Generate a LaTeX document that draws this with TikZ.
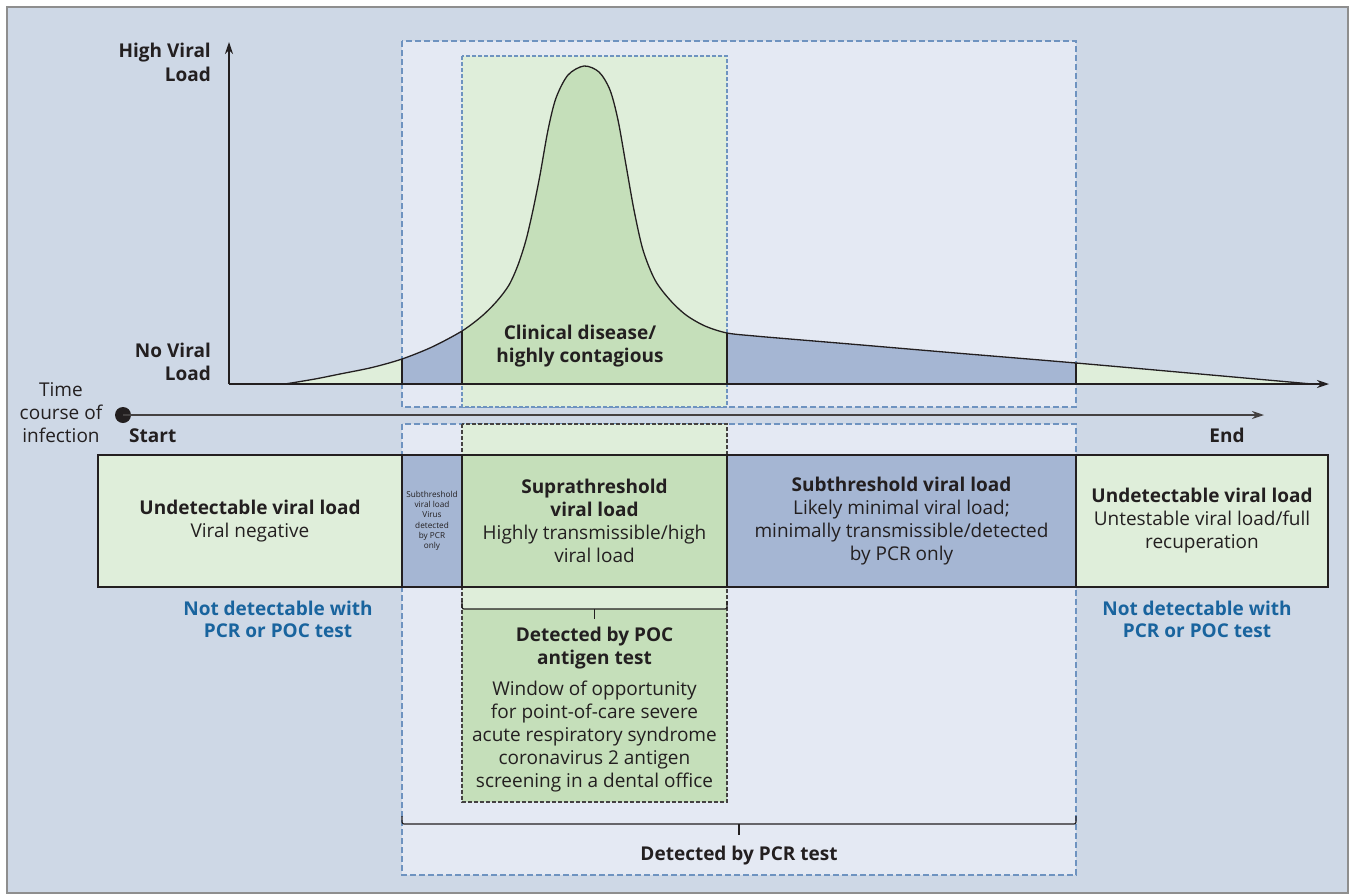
\documentclass[tikz,border=0pt]{standalone}
\usepackage{fontspec}
\setmainfont{Open Sans}
\usetikzlibrary{arrows.meta}
\definecolor{bgc}{HTML}{CED8E6}
\definecolor{pcrc}{HTML}{E4E9F3}
\definecolor{lg}{HTML}{DFEEDA}
\definecolor{mg}{HTML}{C5DFBA}
\definecolor{bc}{HTML}{A5B6D3}
\definecolor{dashc}{HTML}{6E93C0}
\definecolor{txtblue}{HTML}{19649E}
\definecolor{dark}{HTML}{231F20}
\definecolor{framec}{HTML}{8E8E8E}
\begin{document}
\begin{tikzpicture}[x=1pt,y=-1pt,
  lbl/.style={font=\fontsize{19}{23}\selectfont, text=dark, inner sep=0pt},
  bl/.style={font=\fontsize{19}{23}\selectfont\bfseries, text=dark, inner sep=0pt},
  bluelbl/.style={font=\fontsize{19}{22}\selectfont\bfseries, text=txtblue, inner sep=0pt, align=center},
  cell/.style={draw=dark, line width=1.2pt, inner sep=0pt, minimum height=132pt, align=center,
               font=\fontsize{19}{23}\selectfont, text=dark},
  pcrbox/.style={fill=pcrc, draw=dashc, line width=1.1pt, dash pattern=on 6pt off 3pt},
  greenbox/.style={fill=lg, draw=dashc, line width=1.1pt, dash pattern=on 4pt off 2pt},
  pocbox/.style={draw=dark!85, line width=1.1pt, dash pattern=on 4pt off 2pt},
  axis/.style={draw=dark, line width=1.3pt, -{Stealth[length=12pt,width=8pt]}},
  bracket/.style={draw=dark, line width=1.2pt, rounded corners=2pt}
]
\useasboundingbox (0,0) rectangle (1352,895);
\def\vcurve{plot[smooth,tension=0.5] coordinates {(285,384) (315,379) (340,374) (372,367.5) (402,359) (432,347) (462,331) (482,316) (497,301) (509,285) (518,265) (526,240) (533,210) (540,175) (548,130) (556,98) (568,75) (584,66) (599,72) (610,90) (618,120) (626,165) (634,210) (643,250) (655,280) (670,300) (686,315) (705,326) (727,333) (755,336) (790,339) (850,344) (950,352.5) (1076,363) (1200,374) (1312,384)}}

% frame
\draw[framec, fill=bgc, line width=1.2pt] (7,7) rectangle (1348,893);

% PCR windows
\path[pcrbox] (402,41) rectangle (1076,407);
\path[pcrbox] (402,424) rectangle (1076,875);

% POC windows
\path[greenbox] (462,56) rectangle (727,407);
\fill[lg] (462,424) rectangle (727,802);
\fill[mg] (462,609) rectangle (727,802);
\path[pocbox] (462,424) rectangle (727,802);

% curve fills
\fill[lg] \vcurve -- cycle;
\begin{scope}
  \clip (402,0) rectangle (462,400);
  \fill[bc] \vcurve -- cycle;
\end{scope}
\begin{scope}
  \clip (727,0) rectangle (1076,400);
  \fill[bc] \vcurve -- cycle;
\end{scope}
\begin{scope}
  \clip (462,0) rectangle (727,400);
  \fill[mg] \vcurve -- cycle;
\end{scope}
\coordinate (b1) at (402,384); \coordinate (t1) at (402,359);
\coordinate (b2) at (462,384); \coordinate (t2) at (462,331);
\coordinate (b3) at (727,384); \coordinate (t3) at (727,333);
\coordinate (b4) at (1076,384); \coordinate (t4) at (1076,363);
\draw[dark, line width=1.2pt] (b1) -- (t1) (b2) -- (t2) (b3) -- (t3) (b4) -- (t4);
\draw[dark, line width=1.3pt] \vcurve;

% axes
\coordinate (O) at (229,384);
\coordinate (ytop) at (229,42);
\coordinate (xend) at (1329,384);
\draw[axis] (O) -- (ytop);
\draw[axis] (O) -- (xend);

% time axis
\coordinate (tstart) at (123,415);
\coordinate (tend) at (1264,415);
\fill[dark] (tstart) circle (8pt);
\draw[axis, draw=dark!85, line width=1.2pt] (tstart) -- (tend);

% table row
\node[cell, fill=lg, minimum width=304pt] (c1) at (250,521)
  {\textbf{Undetectable viral load}\\Viral negative};
\node[cell, fill=bc, minimum width=60pt, font=\fontsize{8.2}{10.3}\selectfont] (c2) at (432,521)
  {Subthreshold\\viral load\\Virus\\detected\\by PCR\\only};
\node[cell, fill=mg, minimum width=265pt] (c3) at (594.5,521)
  {\textbf{Suprathreshold}\\\textbf{viral load}\\Highly transmissible/high\\viral load};
\node[cell, fill=bc, minimum width=349pt] (c4) at (901.5,521)
  {\textbf{Subthreshold viral load}\\Likely minimal viral load;\\minimally transmissible/detected\\by PCR only};
\node[cell, fill=lg, minimum width=252pt] (c5) at (1202,521)
  {\textbf{Undetectable viral load}\\Untestable viral load/full\\recuperation};

% brackets
\coordinate (pl) at (462,601); \coordinate (pr) at (727,601);
\coordinate (pm) at (594.5,609); \coordinate (pt) at (594.5,619);
\draw[bracket] (pl) -- (462,609) -- (727,609) -- (pr);
\draw[dark, line width=1.2pt] (pm) -- (pt);
\coordinate (ql) at (402,816); \coordinate (qr) at (1076,816);
\coordinate (qm) at (739,824); \coordinate (qt) at (739,835);
\draw[bracket] (ql) -- (402,824) -- (1076,824) -- (qr);
\draw[dark, line width=1.2pt] (qm) -- (qt);

% labels
\node[bl, anchor=base east] (hv1) at (211,57) {High Viral};
\node[bl, anchor=base east] (hv2) at (211,81) {Load};
\node[bl, anchor=base east] (nv1) at (211,357) {No Viral};
\node[bl, anchor=base east] (nv2) at (211,380) {Load};
\node[lbl, align=center] (tc) at (61,413) {Time\\course of\\infection};
\node[bl, anchor=base west] (start) at (129,442) {Start};
\node[bl, anchor=base] (end) at (1227,442) {End};
\node[bl, align=center] (clin) at (580,346) {Clinical disease/\\highly contagious};
\node[bluelbl] (nd1) at (278,619) {Not detectable with\\PCR or POC test};
\node[bluelbl] (nd2) at (1197,619) {Not detectable with\\PCR or POC test};
\node[lbl, align=center] (poc) at (594.5,710)
  {\textbf{Detected by POC}\\\textbf{antigen test}\\[8pt]Window of opportunity\\for point-of-care severe\\acute respiratory syndrome\\coronavirus 2 antigen\\screening in a dental office};
\node[bl, anchor=base] (pcr) at (739,860) {Detected by PCR test};
\end{tikzpicture}
\end{document}
